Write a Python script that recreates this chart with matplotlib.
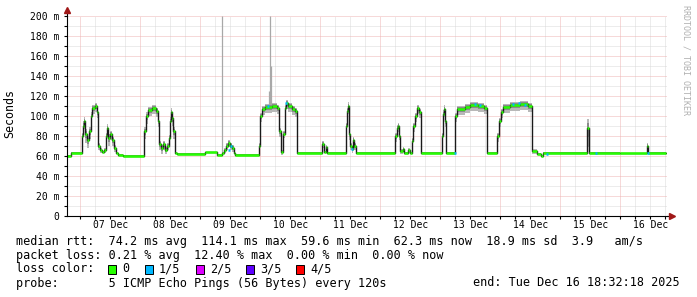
import matplotlib
matplotlib.use("Agg")
import matplotlib.pyplot as plt
import numpy as np

# ---------------- data (hours since 07 Dec 00:00) ----------------
t_start = -5.47   # Tue Dec 06 18:32
t_end = 234.53    # Tue Dec 16 18:32

med_t = [-5.5, -3.6, 0.8, 1.2, 1.6, 2.0, 2.8, 3.6, 4.4, 4.8, 6.0, 6.8, 7.2, 8.0, 8.8, 9.6,
         10.4, 10.8, 11.2, 12.0, 12.8, 13.6, 14.4, 15.2, 17.2,
         25.6, 26.4, 27.2, 28.8, 30.4, 31.2, 31.6, 32.4, 33.2, 34.0, 34.8, 35.6, 36.0, 36.4,
         36.8, 37.2, 38.0, 38.8, 50.0, 54.8, 56.8, 57.6, 58.4, 59.2, 60.0, 60.8, 61.6, 62.0,
         71.6, 72.0, 72.8, 74.0, 76.8, 78.8, 79.6, 80.4, 81.2, 82.0, 82.4, 83.2, 84.8, 86.0,
         86.8, 96.8, 97.6, 98.4, 98.8,
         106.4, 106.8, 107.2, 107.6, 108.0, 108.8, 109.2, 109.6, 110.4,
         126.0, 126.8, 127.2, 127.6, 128.0, 129.2, 129.6, 131.2, 132.0, 132.8, 133.2, 134.0,
         134.8, 135.6, 136.4,
         144.8, 145.2, 145.6, 146.0, 146.4, 150.0, 150.8, 154.0, 156.0, 159.2, 161.6, 162.8,
         166.8, 167.6, 168.4, 169.2, 172.0, 176.0, 179.2, 180.8, 182.8, 184.4, 185.2,
         202.8, 203.6, 216.0, 226.8, 227.2, 234.5]
med_ms = [60, 63, 80, 90, 95, 82, 76, 85, 100, 108, 110, 104, 70, 66, 64, 66,
          80, 88, 78, 82, 76, 68, 63, 61, 60,
          85, 100, 106, 108, 105, 95, 72, 68, 72, 66, 70, 78, 95, 104,
          98, 85, 63, 62, 63.5, 61, 63, 66, 70, 73, 70, 68, 63, 61,
          70, 100, 107, 109, 110, 108, 85, 64, 82, 108, 113, 110, 107, 105,
          63, 72, 64, 69, 63,
          90, 105, 110, 82, 70, 67, 76, 70, 63,
          80, 88, 90, 80, 65, 67, 63, 66, 63, 75, 90, 100,
          108, 104, 63,
          80, 102, 107, 95, 63, 100, 107, 109, 111, 110, 108, 63,
          80, 95, 104, 109, 111, 112, 110, 65, 62, 60, 63,
          88, 63, 62.5, 70, 63, 63]
smoke_ms = [0.5, 0.5, 4, 6, 5, 6, 5, 5, 5, 4, 4, 4, 3, 2, 1, 2,
            4, 5, 5, 4, 4, 3, 1, 1, 0.5,
            5, 5, 4, 4, 4, 4, 4, 4, 4, 3, 3, 4, 5, 5,
            5, 5, 1, 0.5, 0.5, 1, 1, 2, 3, 3, 3, 3, 1, 0.5,
            3, 4, 4, 4, 4, 4, 4, 2, 3, 4, 4, 4, 4, 4,
            1, 3, 1, 2, 1,
            4, 4, 5, 4, 3, 3, 4, 3, 1,
            4, 4, 4, 3, 2, 2, 1, 2, 1, 3, 4, 4,
            4, 4, 1,
            4, 5, 5, 4, 1, 4, 4, 4, 4, 4, 4, 1,
            4, 4, 4, 4, 4, 4, 4, 2, 1, 1, 1,
            12, 1, 0.5, 4, 1, 1]

loss_t = [59.6, 60.4, 75.2, 82.4, 108.8, 150.0, 158.0, 160.0, 173.0, 175.6, 178.0, 186.8, 206.4, 227.0]
loss_ms = [66, 70, 110, 113, 67, 63, 112, 111, 112, 113, 111, 62, 63, 63]

spike_t = [56.8, 76.0, 76.4, 75.6]
spike_ms = [200, 200, 150, 125]

y_ticks = [0, 20, 40, 60, 80, 100, 120, 140, 160, 180, 200]
y_labels = ["0", "20 m", "40 m", "60 m", "80 m", "100 m", "120 m", "140 m", "160 m", "180 m", "200 m"]
day_labels = ["07 Dec", "08 Dec", "09 Dec", "10 Dec", "11 Dec", "12 Dec", "13 Dec", "14 Dec", "15 Dec", "16 Dec"]

loss_names = ["0", "1/5", "2/5", "3/5", "4/5"]
loss_colors = ["#26ff00", "#00b8ff", "#dd00ff", "#5e00ff", "#ff0000"]

legend_rows = [
    "median rtt:  74.2 ms avg  114.1 ms max  59.6 ms min  62.3 ms now  18.9 ms sd  3.9   am/s",
    "packet loss: 0.21 % avg  12.40 % max  0.00 % min  0.00 % now",
    "loss color:",
    "probe:       5 ICMP Echo Pings (56 Bytes) every 120s",
]
end_text = "end: Tue Dec 16 18:32:18 2025"

# ---------------- figure ----------------
W, H = 697, 297
fig = plt.figure(figsize=(W / 100, H / 100), dpi=100)
L, R, T, B = 66.5, 666.5, 15.5, 215.5
ax = fig.add_axes([L / W, 1 - B / H, (R - L) / W, (B - T) / H])
ax.set_xlim(t_start, t_end)
ax.set_ylim(0, 200)
mono = "DejaVu Sans Mono"

# grid
minor_c, major_c = "#dadada", "#eeb4b4"
dash = (0, (1, 1))
gkw = dict(lw=0.72, ls=dash)
for v in range(10, 201, 10):
    if v % 20:
        ax.axhline(v, color=minor_c, zorder=0, **gkw)
for h in np.arange(-0.0, 235, 6):
    if h % 24:
        ax.axvline(h, color=minor_c, zorder=0, **gkw)
for v in range(20, 201, 20):
    ax.axhline(v, color=major_c, zorder=0.5, **gkw)
for h in range(0, 235, 24):
    ax.axvline(h, color=major_c, zorder=0.5, **gkw)

t = np.array(med_t, dtype=float)
m = np.array(med_ms, dtype=float)
s = np.array(smoke_ms, dtype=float)

# smoke
ax.fill_between(t, m - 1.6 * s, m + 0.7 * s, step="post", color="#b8b8b8", lw=0, zorder=1)
ax.fill_between(t, m - 0.8 * s, m + 0.35 * s, step="post", color="#8a8a8a", lw=0, zorder=1.2)
ax.vlines(spike_t, [m[np.searchsorted(t, x) - 1] for x in spike_t], spike_ms,
          color="#a8a8a8", lw=0.9, zorder=1.1)

# median: dark step line + green caps
ax.step(t, m, where="post", color="#1a1a1a", lw=1.0, zorder=2)
ax.hlines(m[:-1], t[:-1], t[1:], color=loss_colors[0], lw=1.8, zorder=3)
ax.hlines(loss_ms, np.array(loss_t) - 0.4, np.array(loss_t) + 0.4, color=loss_colors[1], lw=1.8, zorder=3.5)

# axes
for sp in ["top", "right"]:
    ax.spines[sp].set_visible(False)
for sp in ["left", "bottom"]:
    ax.spines[sp].set_linewidth(0.8)
    ax.spines[sp].set_zorder(4)
ax.plot([t_start, t_start], [200, 205], color="black", lw=0.8, clip_on=False)
ax.plot([t_end, 236.0], [0, 0], color="black", lw=0.8, clip_on=False)
ax.plot([t_start], [205.5], marker="^", ms=4, color="#a01818", clip_on=False, zorder=5)
ax.plot([236.8], [0], marker=">", ms=4, color="#a01818", clip_on=False, zorder=5)

ax.set_yticks(y_ticks)
ax.set_yticklabels(y_labels, family=mono, fontsize=7)
ax.set_yticks(range(10, 200, 20), minor=True)
ax.set_xticks(range(0, 235, 24))
ax.set_xticklabels([])
ax.set_xticks([h for h in range(0, 235, 6) if h % 24], minor=True)
ax.tick_params(axis="both", which="both", length=2, width=0.8, color="black", pad=3)
for i, lab in enumerate(day_labels):
    ax.text(12 + 24 * i, -4.5, lab, family=mono, fontsize=7, ha="center", va="top")

fig.text(10 / W, 1 - 114 / H, "Seconds", family=mono, fontsize=8.4, rotation=90,
         ha="center", va="center")
fig.text(686 / W, 1 - 5 / H, "RRDTOOL / TOBI OETIKER", family=mono, fontsize=6,
         rotation=270, ha="center", va="top", color="#b0b0b0")

# legend
rows_y = [241, 255, 269, 283]
for ry, txt in zip(rows_y, legend_rows):
    fig.text(16 / W, 1 - ry / H, txt, family=mono, fontsize=8.5, ha="left", va="center")
fig.text(680 / W, 1 - rows_y[3] / H, end_text, family=mono, fontsize=8.5, ha="right", va="center")
box_x = [108, 145, 196, 246, 296]
for bx, col, name in zip(box_x, loss_colors, loss_names):
    fig.patches.append(plt.Rectangle((bx / W, 1 - (rows_y[2] + 4.5) / H), 8 / W, 9 / H,
                                     transform=fig.transFigure, facecolor=col,
                                     edgecolor="black", lw=0.7))
    fig.text((bx + 14) / W, 1 - rows_y[2] / H, name, family=mono, fontsize=8.5,
             ha="left", va="center")

fig.savefig("out.png", dpi=100)
